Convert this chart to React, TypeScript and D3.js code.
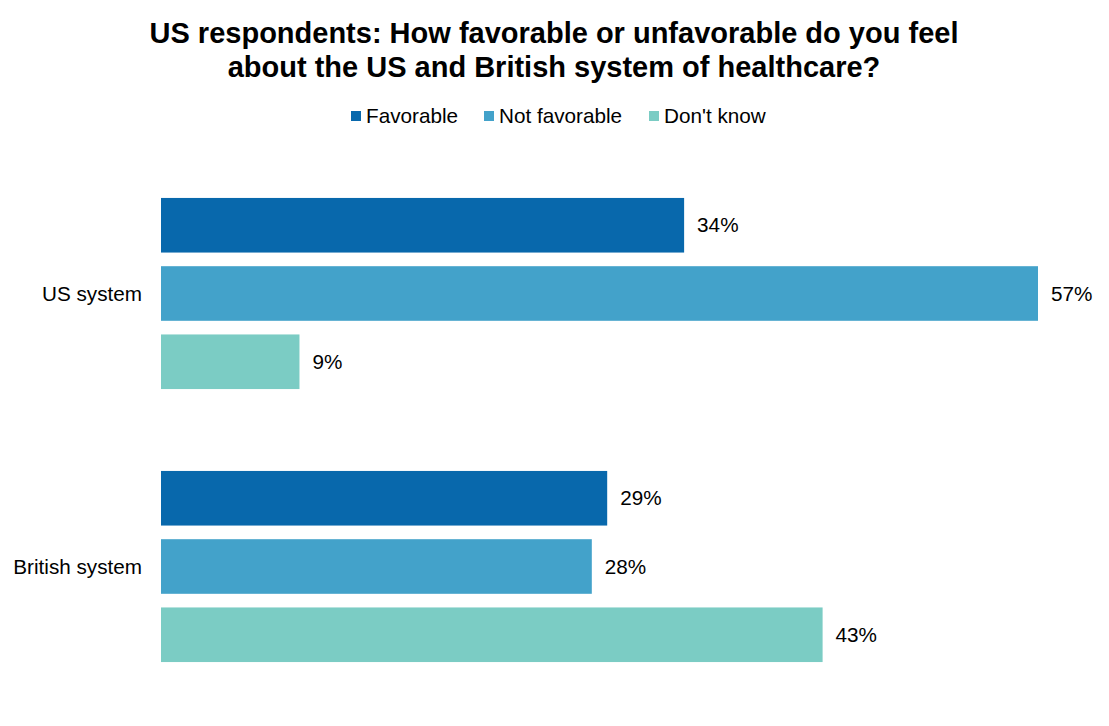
import React from "react";
import * as d3 from "d3";

const categories = ["US system", "British system"];
const seriesNames = ["Favorable", "Not favorable", "Don't know"];
const favorable = [34, 29];
const notFavorable = [57, 28];
const dontKnow = [9, 43];
const colors = ["#0868AC", "#43A2CA", "#7BCCC4"];
const titleLines = [
  "US respondents: How favorable or unfavorable do you feel",
  "about the US and British system of healthcare?",
];

const W = 1109;
const H = 726;
const FONT = "'Liberation Sans', Arial, sans-serif";
const FS = 20.7;

export default function App() {
  const seriesValues = [favorable, notFavorable, dontKnow];
  const x = d3.scaleLinear().domain([0, 57]).range([161, 1038]);
  const y0 = d3
    .scaleBand<string>()
    .domain(categories)
    .range([157, 703])
    .paddingInner(0.3)
    .paddingOuter(0.15);
  const y1 = d3
    .scaleBand<string>()
    .domain(seriesNames)
    .range([0, y0.bandwidth()])
    .paddingInner(0.2)
    .paddingOuter(0);

  const legendX = [351, 484, 649];

  return (
    <svg
      width={W}
      height={H}
      style={{ position: "absolute", left: 0, top: 0, background: "#fff" }}
      fontFamily={FONT}
    >
      <rect width={W} height={H} fill="#fff" />
      {titleLines.map((t, i) => (
        <text
          key={i}
          x={554}
          y={43 + i * 34}
          textAnchor="middle"
          fontSize={29}
          fontWeight="bold"
          fill="#000"
        >
          {t}
        </text>
      ))}
      {seriesNames.map((s, i) => (
        <g key={s}>
          <rect x={legendX[i]} y={111} width={10} height={10} fill={colors[i]} />
          <text x={legendX[i] + 15} y={123} fontSize={FS} fill="#000">
            {s}
          </text>
        </g>
      ))}
      {categories.map((c, ci) => (
        <g key={c}>
          <text
            x={142}
            y={(y0(c) as number) + y0.bandwidth() / 2}
            dy="0.35em"
            textAnchor="end"
            fontSize={FS}
            fill="#000"
          >
            {c}
          </text>
          {seriesNames.map((s, si) => {
            const v = seriesValues[si][ci];
            const yy = (y0(c) as number) + (y1(s) as number);
            return (
              <g key={s}>
                <rect
                  x={x(0)}
                  y={yy}
                  width={x(v) - x(0)}
                  height={y1.bandwidth()}
                  fill={colors[si]}
                />
                <text
                  x={x(v) + 13}
                  y={yy + y1.bandwidth() / 2}
                  dy="0.35em"
                  fontSize={FS}
                  fill="#000"
                >
                  {v}%
                </text>
              </g>
            );
          })}
        </g>
      ))}
    </svg>
  );
}
